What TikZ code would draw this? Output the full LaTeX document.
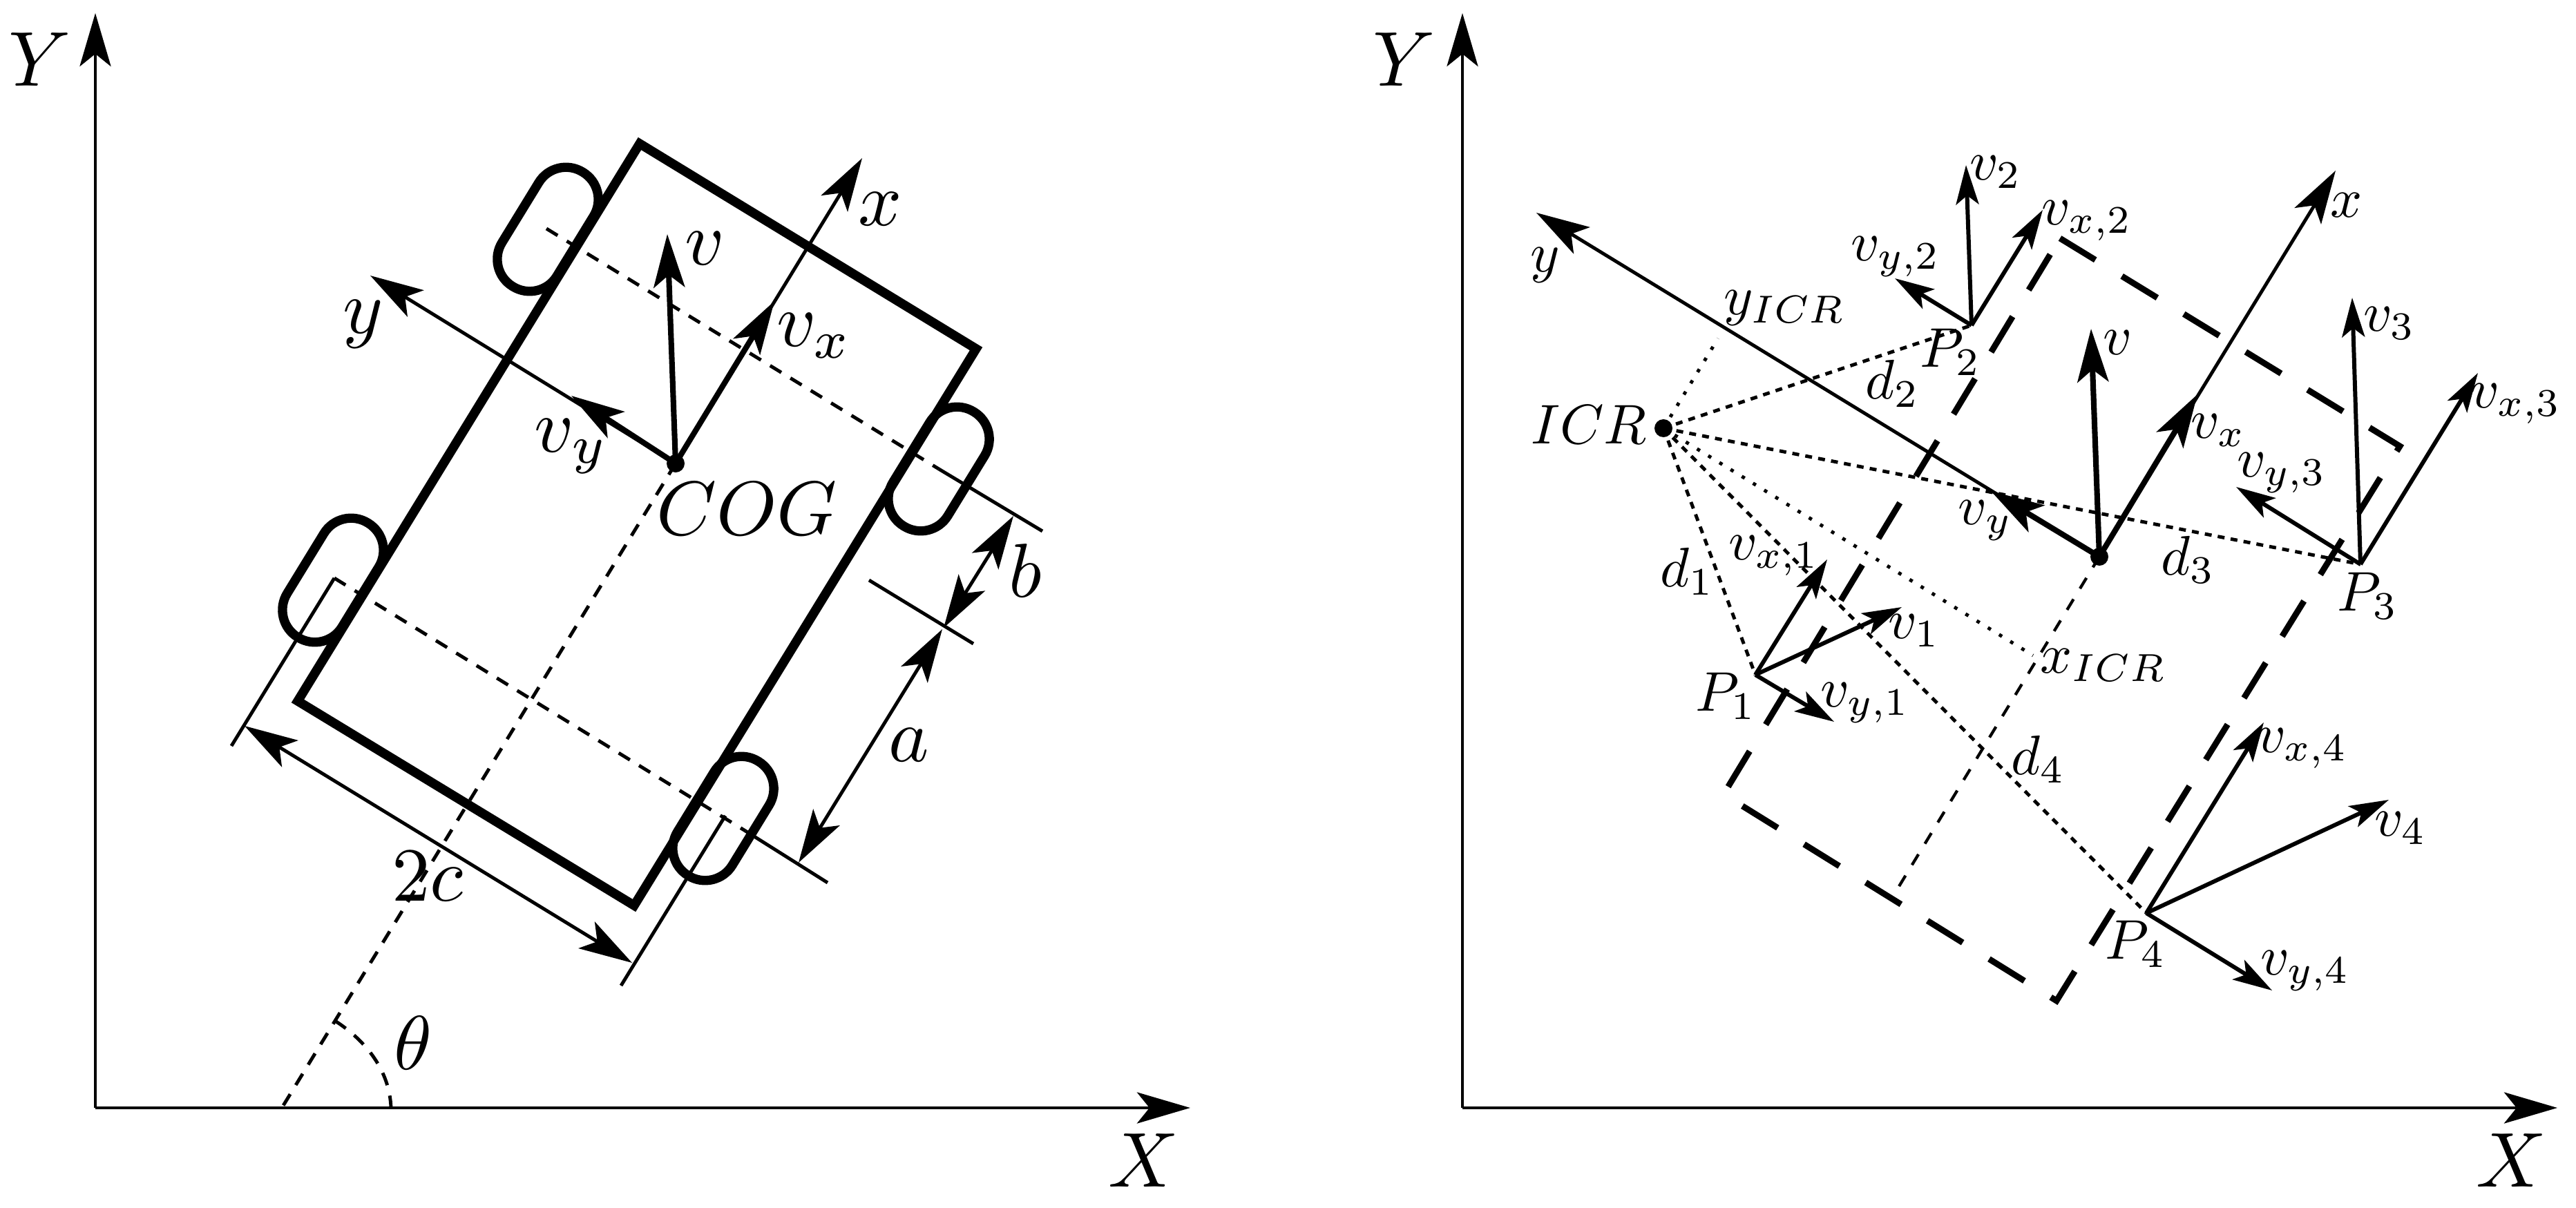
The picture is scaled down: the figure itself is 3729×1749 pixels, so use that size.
\documentclass[tikz,border=0pt]{standalone}
\usepackage{amsmath,amssymb}
\usepackage{tikz}
\usetikzlibrary{arrows.meta}
\tikzset{
    tip/.tip={Stealth[length=.77cm,width=.45cm,inset=.18cm]},
    tipb/.tip={Stealth[length=.57cm,width=.33cm,inset=.13cm]},
    axe/.style={line width=1.4pt,-tip},
    vec/.style={line width=2.3pt,-tip},
    vecb/.style={line width=1.7pt,-tipb},
    cote/.style={line width=1.4pt,tip-tip},
    trait/.style={line width=1.4pt},
    tirets/.style={line width=1.4pt,dash pattern=on .19cm off .155cm},
    tiretsb/.style={line width=1.2pt,dash pattern=on .18cm off .18cm},
    pointsb/.style={line width=1.4pt,dash pattern=on .1cm off .09cm},
    points/.style={line width=1.4pt,dash pattern=on .05cm off .14cm},
    caisse/.style={line width=3.8pt,line join=miter},
    fantome/.style={line width=2.5pt,dash pattern=on .6cm off .45cm},
    roue/.style={draw,line width=3.8pt,rectangle,rounded corners=.46cm,rotate=58.5,
        minimum width=1.94cm,minimum height=.93cm,inner sep=0pt},
    grand/.style={scale=3.15,inner sep=0pt},
    moyen/.style={scale=3.2,inner sep=0pt},
    petit/.style={scale=2.3,inner sep=0pt},
    pt/.style={circle,fill,inner sep=0pt,minimum size=.26cm}
}
\begin{document}
\begin{tikzpicture}[x=.01cm,y=-.01cm]
    \useasboundingbox (0,0) rectangle (3729,1749);
    % repere de gauche
    \coordinate (O1) at (138,1604);
    \coordinate (Y1) at (138,19);
    \coordinate (X1) at (1723,1604);
    \draw[axe] (O1)--(Y1);
    \draw[axe] (O1)--(X1);
    \node[moyen] (labY1) at (58,86) {$Y$};
    \node[moyen] (labX1) at (1656,1680) {$X$};
    % caisse
    \coordinate (A) at (926,208);
    \coordinate (B) at (1413,505);
    \coordinate (C) at (918,1311);
    \coordinate (D) at (431,1015);
    \draw[caisse] (A)--(B)--(C)--(D)--cycle;
    % roues
    \node[roue] (r1) at (793,332) {};
    \node[roue] (r2) at (1359,679) {};
    \node[roue] (r3) at (482,840) {};
    \node[roue] (r4) at (1047,1185) {};
    % axes du vehicule
    \node[pt] (cog) at (978,671) {};
    \coordinate (xtip) at (1248,229);
    \coordinate (ytip) at (536,399);
    \coordinate (vxtip) at (1121,436);
    \coordinate (vytip) at (827,573);
    \coordinate (vtip) at (966,339);
    \coordinate (base) at (408,1604);
    \draw[axe] (cog.center)--(xtip);
    \draw[axe] (cog.center)--(ytip);
    \draw[vec] (cog.center)--(vxtip);
    \draw[vec] (cog.center)--(vytip);
    \draw[vec] (cog.center)--(vtip);
    \draw[tirets] (cog.center)--(base);
    \coordinate (arcd) at (485,1478);
    \coordinate (arcf) at (566,1604);
    \draw[tirets] (arcd) .. controls (530,1507) and (564,1550) .. (arcf);
    % lignes des roues
    \coordinate (h1) at (791,331);
    \coordinate (h2) at (1359,679);
    \coordinate (h3) at (1509,769);
    \coordinate (b1) at (484,837);
    \coordinate (b2) at (1079,1203);
    \coordinate (b3) at (1198,1278);
    \draw[tirets] (h1)--(h2);
    \draw[trait] (h2)--(h3);
    \draw[tirets] (b1)--(b2);
    \draw[trait] (b2)--(b3);
    \coordinate (g1) at (335,1080);
    \coordinate (g2) at (1050,1181);
    \coordinate (g3) at (899,1427);
    \coordinate (t1) at (1258,840);
    \coordinate (t2) at (1409,932);
    \draw[trait] (b1)--(g1);
    \draw[trait] (g2)--(g3);
    \draw[trait] (t1)--(t2);
    % cotes
    \coordinate (c1) at (354,1051);
    \coordinate (c2) at (915,1394);
    \coordinate (a1) at (1364,911);
    \coordinate (a2) at (1156,1249);
    \coordinate (e1) at (1467,747);
    \coordinate (e2) at (1366,909);
    \draw[cote] (c1)--(c2);
    \draw[cote] (a1)--(a2);
    \draw[cote] (e1)--(e2);
    % textes
    \node[grand] (labx) at (1274,303) {$x$};
    \node[grand] (labv) at (1020,360) {$v$};
    \node[grand] (labvx) at (1179,486) {$v_x$};
    \node[grand] (laby) at (526,469) {$y$};
    \node[grand] (labvy) at (827,646) {$v_y$};
    \node[grand] (labcog) at (1081,737) {$COG$};
    \node[grand] (labb) at (1484,826) {$b$};
    \node[grand] (laba) at (1316,1079) {$a$};
    \node[grand] (labc) at (619,1269) {$2c$};
    \node[grand] (labt) at (598,1510) {$\theta$};

    % repere de droite
    \coordinate (O2) at (2117,1604);
    \coordinate (Y2) at (2117,19);
    \coordinate (X2) at (3702,1604);
    \draw[axe] (O2)--(Y2);
    \draw[axe] (O2)--(X2);
    \node[moyen] (labY2) at (2033,86) {$Y$};
    \node[moyen] (labX2) at (3635,1680) {$X$};
    % contour
    \coordinate (T) at (2982,345);
    \coordinate (R) at (3474,646);
    \coordinate (S) at (2977,1449);
    \coordinate (L) at (2495,1150);
    \draw[fantome] (T)--(R)--(S)--(L)--cycle;
    % centre
    \node[pt] (cg) at (3039,806) {};
    \node[pt] (icr) at (2408,620) {};
    \coordinate (xt) at (3381,247);
    \coordinate (yt) at (2224,308);
    \coordinate (vxt) at (3181,571);
    \coordinate (vyt) at (2882,711);
    \coordinate (vt) at (3027,476);
    \coordinate (fin) at (2740,1298);
    \draw[axe] (cg.center)--(xt);
    \draw[axe] (cg.center)--(yt);
    \draw[vec] (cg.center)--(vxt);
    \draw[vec] (cg.center)--(vyt);
    \draw[vec] (cg.center)--(vt);
    \draw[tiretsb] (cg.center)--(fin);
    % points P
    \coordinate (P1) at (2541,977);
    \coordinate (P2) at (2854,471);
    \coordinate (P3) at (3417,817);
    \coordinate (P4) at (3107,1322);
    \coordinate (v1) at (2753,879);
    \coordinate (v2) at (2846,239);
    \coordinate (v3) at (3405,431);
    \coordinate (v4) at (3458,1158);
    \coordinate (vx1) at (2645,810);
    \coordinate (vx2) at (2957,304);
    \coordinate (vx3) at (3587,540);
    \coordinate (vx4) at (3277,1046);
    \coordinate (vy1) at (2655,1045);
    \coordinate (vy2) at (2743,403);
    \coordinate (vy3) at (3237,705);
    \coordinate (vy4) at (3289,1434);
    \foreach \i in {1,2,3,4}{
        \draw[vecb] (P\i)--(v\i);
        \draw[vecb] (P\i)--(vx\i);
        \draw[vecb] (P\i)--(vy\i);
        \draw[pointsb] (icr.center)--(P\i);
    }
    % projections
    \coordinate (py) at (2487,490);
    \coordinate (px) at (2943,949);
    \draw[points] (icr.center)--(py);
    \draw[points] (icr.center)--(px);
    % textes
    \node[petit] (labxb) at (3397,297) {$x$};
    \node[petit] (labyb) at (2237,384) {$y$};
    \node[petit] (labyicr) at (2584,446) {$y_{ICR}$};
    \node[petit] (labxicr) at (3045,963) {$x_{ICR}$};
    \node[petit] (labicr) at (2300,615) {$ICR$};
    \node[petit] (labvb) at (3066,496) {$v$};
    \node[petit] (labvxb) at (3211,623) {$v_x$};
    \node[petit] (labvyb) at (2874,754) {$v_y$};
    \node[petit] (labP1) at (2499,1008) {$P_1$};
    \node[petit] (labP2) at (2824,510) {$P_2$};
    \node[petit] (labP3) at (3428,863) {$P_3$};
    \node[petit] (labP4) at (3092,1367) {$P_4$};
    \node[petit] (labd1) at (2443,827) {$d_1$};
    \node[petit] (labd2) at (2740,555) {$d_2$};
    \node[petit] (labd3) at (3168,810) {$d_3$};
    \node[petit] (labd4) at (2951,1099) {$d_4$};
    \node[petit] (labv1) at (2771,913) {$v_1$};
    \node[petit] (labv2) at (2889,249) {$v_2$};
    \node[petit] (labv3) at (3459,468) {$v_3$};
    \node[petit] (labv4) at (3475,1199) {$v_4$};
    \node[petit] (labvx1) at (2568,805) {$v_{x,1}$};
    \node[petit] (labvx2) at (3021,320) {$v_{x,2}$};
    \node[petit] (labvx3) at (3642,585) {$v_{x,3}$};
    \node[petit] (labvx4) at (3333,1084) {$v_{x,4}$};
    \node[petit] (labvy1) at (2700,1018) {$v_{y,1}$};
    \node[petit] (labvy2) at (2744,372) {$v_{y,2}$};
    \node[petit] (labvy3) at (3303,685) {$v_{y,3}$};
    \node[petit] (labvy4) at (3337,1406) {$v_{y,4}$};
\end{tikzpicture}
\end{document}
